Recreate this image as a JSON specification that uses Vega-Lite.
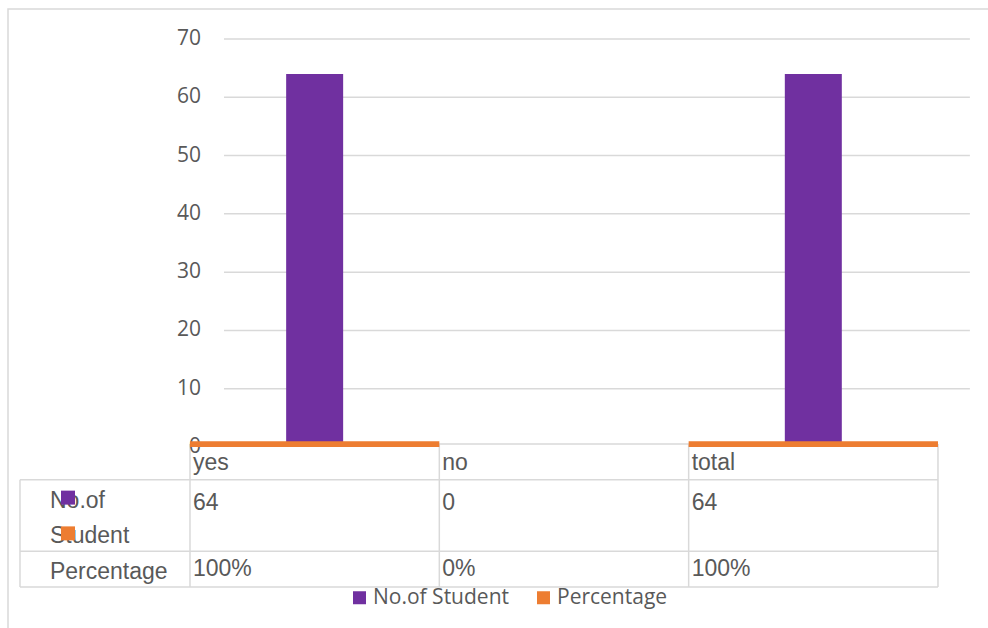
{
  "$schema": "https://vega.github.io/schema/vega-lite/v6.json",
  "width": 988,
  "height": 628,
  "autosize": {"type": "fit", "contains": "padding"},
  "padding": {"left": 8, "top": 9, "right": -10, "bottom": -12},
  "background": "white",
  "config": {"view": {"stroke": "#D9D9D9", "strokeWidth": 1.5}, "font": "Open Sans"},
  "datasets": {
    "counts": [
      {"category": "yes", "students": 64, "percentage": 1},
      {"category": "no", "students": 0, "percentage": 0},
      {"category": "total", "students": 64, "percentage": 1}
    ],
    "ticks": [{"tick": 0}, {"tick": 10}, {"tick": 20}, {"tick": 30}, {"tick": 40}, {"tick": 50}, {"tick": 60}, {"tick": 70}],
    "keys": [{"series": "No.of Student", "line": "No.of"}, {"series": "Percentage", "line": "Student"}],
    "rowLabels": [{"line": "No.of"}, {"line": "Student"}, {"line": "Percentage"}],
    "hlines": [{"row": "No.of"}, {"row": "Percentage"}],
    "one": [{"item": "border"}]
  },
  "resolve": {"scale": {"y": "independent"}, "axis": {"y": "independent"}},
  "layer": [
    {
      "layer": [
        {
          "data": {"name": "counts"},
          "mark": {"type": "rule", "color": "#D9D9D9", "strokeWidth": 1.5},
          "encoding": {
            "x": {"field": "category", "type": "nominal", "bandPosition": 0, "axis": null,
                  "scale": {"domain": ["yes", "no", "total"], "paddingInner": 0, "paddingOuter": 0.4853, "align": 0.752}},
            "y": {"datum": "header", "type": "nominal", "bandPosition": 0, "axis": null,
                  "scale": {"domain": ["header", "No.of", "Student", "Percentage"], "paddingInner": 0, "paddingOuter": 0, "range": [435, 578]}},
            "y2": {"datum": "Percentage", "bandPosition": 1}
          }
        },
        {
          "data": {"name": "one"},
          "mark": {"type": "rule", "color": "#D9D9D9", "strokeWidth": 1.5},
          "encoding": {
            "x": {"datum": "total", "type": "nominal", "bandPosition": 1, "axis": null},
            "y": {"datum": "header", "type": "nominal", "bandPosition": 0, "axis": null},
            "y2": {"datum": "Percentage", "bandPosition": 1}
          }
        },
        {
          "data": {"name": "one"},
          "mark": {"type": "rule", "color": "#D9D9D9", "strokeWidth": 1.5},
          "encoding": {
            "x": {"datum": "yes", "type": "nominal", "bandPosition": -0.6818, "axis": null},
            "y": {"datum": "No.of", "type": "nominal", "bandPosition": 0, "axis": null},
            "y2": {"datum": "Percentage", "bandPosition": 1}
          }
        },
        {
          "data": {"name": "hlines"},
          "mark": {"type": "rule", "color": "#D9D9D9", "strokeWidth": 1.5},
          "encoding": {
            "x": {"datum": "yes", "type": "nominal", "bandPosition": -0.6818, "axis": null},
            "x2": {"datum": "total", "bandPosition": 1},
            "y": {"field": "row", "type": "nominal", "bandPosition": 0, "axis": null}
          }
        },
        {
          "data": {"name": "one"},
          "mark": {"type": "rule", "color": "#D9D9D9", "strokeWidth": 1.5},
          "encoding": {
            "x": {"datum": "yes", "type": "nominal", "bandPosition": -0.6818, "axis": null},
            "x2": {"datum": "total", "bandPosition": 1},
            "y": {"datum": "Percentage", "type": "nominal", "bandPosition": 1, "axis": null}
          }
        },
        {
          "data": {"name": "one"},
          "mark": {"type": "rule", "color": "#D9D9D9", "strokeWidth": 1.5},
          "encoding": {
            "x": {"datum": "yes", "type": "nominal", "bandPosition": 0, "axis": null},
            "x2": {"datum": "total", "bandPosition": 1},
            "y": {"datum": "header", "type": "nominal", "bandPosition": 0, "axis": null}
          }
        },
        {
          "data": {"name": "rowLabels"},
          "mark": {"type": "text", "align": "left", "baseline": "middle", "dy": 3, "font": "Liberation Sans", "fontSize": 23, "color": "#595959"},
          "encoding": {
            "x": {"datum": "yes", "type": "nominal", "bandPosition": -0.5615, "axis": null},
            "y": {"field": "line", "type": "nominal", "axis": null},
            "text": {"field": "line"}
          }
        },
        {
          "data": {"name": "counts"},
          "mark": {"type": "text", "align": "left", "baseline": "middle", "dx": 3, "dy": 1, "font": "Liberation Sans", "fontSize": 23, "color": "#595959"},
          "encoding": {
            "x": {"field": "category", "type": "nominal", "bandPosition": 0, "axis": null},
            "y": {"datum": "header", "type": "nominal", "axis": null},
            "text": {"field": "category"}
          }
        },
        {
          "data": {"name": "counts"},
          "mark": {"type": "text", "align": "left", "baseline": "middle", "dx": 3, "dy": 5, "font": "Liberation Sans", "fontSize": 23, "color": "#595959"},
          "encoding": {
            "x": {"field": "category", "type": "nominal", "bandPosition": 0, "axis": null},
            "y": {"datum": "No.of", "type": "nominal", "axis": null},
            "text": {"field": "students", "type": "quantitative"}
          }
        },
        {
          "data": {"name": "counts"},
          "mark": {"type": "text", "align": "left", "baseline": "middle", "dx": 3, "dy": 0, "font": "Liberation Sans", "fontSize": 23, "color": "#595959"},
          "encoding": {
            "x": {"field": "category", "type": "nominal", "bandPosition": 0, "axis": null},
            "y": {"datum": "Percentage", "type": "nominal", "axis": null},
            "text": {"field": "percentage", "type": "quantitative", "format": ".0%"}
          }
        },
        {
          "data": {"name": "keys"},
          "mark": {"type": "point", "shape": "square", "filled": true, "size": 196, "opacity": 1},
          "encoding": {
            "x": {"datum": "yes", "type": "nominal", "bandPosition": -0.4893, "axis": null},
            "y": {"field": "line", "type": "nominal", "axis": null},
            "color": {"field": "series", "type": "nominal", "legend": {"title": null}}
          }
        }
      ]
    },
    {
      "layer": [
        {
          "data": {"name": "ticks"},
          "mark": {"type": "text", "align": "right", "baseline": "middle", "font": "Open Sans", "fontSize": 21, "color": "#595959"},
          "encoding": {
            "y": {"field": "tick", "type": "quantitative", "axis": null,
                  "scale": {"domain": [-33.11, 75.15], "nice": false, "zero": false}},
            "x": {"datum": "yes", "type": "nominal", "bandPosition": 0.0441, "axis": null},
            "text": {"field": "tick", "type": "quantitative"}
          }
        },
        {
          "data": {"name": "ticks"},
          "transform": [{"filter": "datum.tick > 0"}],
          "mark": {"type": "rule", "color": "#D9D9D9", "strokeWidth": 1.5},
          "encoding": {
            "y": {"field": "tick", "type": "quantitative", "axis": null},
            "x": {"datum": "yes", "type": "nominal", "bandPosition": 0.1364, "axis": null},
            "x2": {"datum": "total", "bandPosition": 1.128}
          }
        },
        {
          "data": {"name": "counts"},
          "mark": {"type": "bar", "width": {"band": 0.2286}},
          "encoding": {
            "x": {"field": "category", "type": "nominal", "axis": null},
            "y": {"field": "students", "type": "quantitative", "axis": null},
            "y2": {"datum": 0},
            "color": {"datum": "No.of Student", "type": "nominal",
                      "scale": {"domain": ["No.of Student", "Percentage"], "range": ["#7030A0", "#ED7D31"]},
                      "legend": {"orient": "none", "legendX": 341, "legendY": 578, "direction": "horizontal", "title": null,
                                 "symbolType": "square", "symbolSize": 169, "symbolStrokeWidth": 0,
                                 "labelFont": "Open Sans", "labelFontSize": 21, "labelColor": "#595959",
                                 "columnPadding": 24, "labelOffset": 3, "padding": 0}}
          }
        },
        {
          "data": {"name": "counts"},
          "mark": {"type": "bar", "width": {"band": 1}},
          "encoding": {
            "x": {"field": "category", "type": "nominal", "axis": null},
            "y": {"field": "percentage", "type": "quantitative", "axis": null},
            "y2": {"datum": 0},
            "color": {"datum": "Percentage", "type": "nominal"}
          }
        }
      ]
    }
  ]
}
